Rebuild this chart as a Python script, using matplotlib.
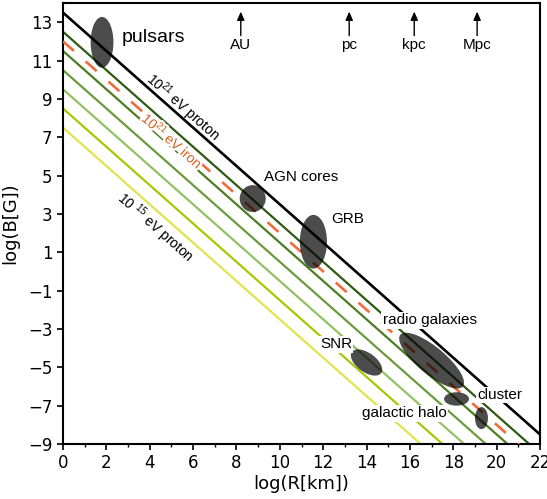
import numpy as np
import matplotlib
matplotlib.use("Agg")
import matplotlib.pyplot as plt
from matplotlib.patches import Ellipse
import matplotlib.patheffects as pe

# ---- data ----
# intercepts of log B = c - log R lines
green_intercepts = [12.5, 11.5, 10.5, 9.5, 8.5, 7.5]
green_colors = ["#2f5a12", "#4d7d22", "#6c9a3d", "#94c064", "#a6c800", "#e2e34c"]
iron_intercept = 12.0
proton21_intercept = 13.5

# objects: name, center R, center B, width, height, angle
obj_names = ["pulsars", "AGN cores", "GRB", "radio galaxies", "SNR", "cluster", "galactic halo"]
obj_R = [1.8, 8.75, 11.55, 17.0, 14.0, 18.15, 19.3]
obj_B = [11.95, 3.8, 1.55, -4.65, -4.75, -6.65, -7.65]
obj_w = [1.05, 1.2, 1.25, 3.95, 1.75, 1.15, 0.6]
obj_h = [2.65, 1.4, 2.8, 1.35, 0.95, 0.7, 1.15]
obj_ang = [0, 0, 0, -44, -42, 0, 0]

# labels
lab_text = ["pulsars", "AGN cores", "GRB", "radio galaxies", "SNR", "cluster", "galactic halo"]
lab_R = [2.7, 9.25, 12.35, 14.75, 11.85, 19.1, 13.8]
lab_B = [12.2, 4.9, 2.75, -2.55, -3.8, -6.45, -7.4]
lab_size = [14, 11, 11, 11, 11, 11, 11]

# distance scale markers
scale_names = ["AU", "pc", "kpc", "Mpc"]
scale_R = [8.2, 13.2, 16.2, 19.1]

xticks = list(range(0, 23, 2))
yticks = list(range(-9, 14, 2))

# ---- figure ----
plt.rcParams["mathtext.fontset"] = "custom"
plt.rcParams["mathtext.rm"] = "Liberation Sans"
plt.rcParams["mathtext.it"] = "Liberation Sans:italic"
plt.rcParams["mathtext.default"] = "regular"

fig = plt.figure(figsize=(5.47, 4.99), dpi=100)
ax = fig.add_axes([63/547, 1-444/499, 477/547, 441/499])
ax.set_xlim(0, 22)
ax.set_ylim(-9, 14)

R = np.array([0.0, 22.0])
for c, col in zip(green_intercepts, green_colors):
    ax.plot(R, c - R, color=col, lw=1.6, solid_capstyle="butt", zorder=2)
ax.plot(R, iron_intercept - R, color="#f26b3a", lw=1.9, dashes=(5.5, 6.0), zorder=3)
ax.plot(R, proton21_intercept - R, color="black", lw=1.9, zorder=3)

for r, b, w, h, a in zip(obj_R, obj_B, obj_w, obj_h, obj_ang):
    ax.add_patch(Ellipse((r, b), w, h, angle=a, facecolor="black", edgecolor="none",
                         alpha=0.7, zorder=4))

bb = dict(facecolor="white", edgecolor="none", pad=1.0)
for t, r, b, s in zip(lab_text, lab_R, lab_B, lab_size):
    ax.text(r, b, t, ha="left", va="center", fontsize=s, family="Liberation Sans",
            bbox=bb, zorder=5)

# rotated energy labels
ax.text(5.52, 8.58, "10$^{21}$ eV proton", rotation=-45, transform_rotates_text=True,
        rotation_mode="anchor", ha="center", va="center", fontsize=10,
        family="Liberation Sans", color="black", zorder=5)
ax.text(5.09, 6.85, "10$^{21}$ eV iron", rotation=-45, transform_rotates_text=True,
        rotation_mode="anchor", ha="center", va="center", fontsize=10,
        family="Liberation Sans", color="#d9601a",
        bbox=dict(facecolor="white", edgecolor="none", pad=-2.4),
        path_effects=[pe.withStroke(linewidth=3.5, foreground="white")], zorder=5)
ax.text(4.25, 2.3, "10 $^{15}$ eV proton", rotation=-45, transform_rotates_text=True,
        rotation_mode="anchor", ha="center", va="center", fontsize=10,
        family="Liberation Sans", color="black", zorder=5)

for n, r in zip(scale_names, scale_R):
    ax.annotate("", xy=(r, 13.55), xytext=(r, 12.3),
                arrowprops=dict(arrowstyle="-|>,head_length=0.5,head_width=0.22",
                                color="black", lw=1.0, shrinkA=0, shrinkB=0))
    ax.text(r, 11.8, n, ha="center", va="center", fontsize=11, family="Liberation Sans")

ax.set_xticks(xticks)
ax.set_yticks(yticks)
ax.set_xticks(range(1, 22, 2), minor=True)
ax.tick_params(which="major", direction="out", length=4, width=1.2, labelsize=12,
               top=False, right=False)
ax.tick_params(which="minor", direction="out", length=2.5, width=1.0, top=False, right=False)
for s in ax.spines.values():
    s.set_linewidth(1.5)

ax.set_xlabel("log(R[km])", fontsize=13, labelpad=2)
ax.set_ylabel("log(B[G])", fontsize=13, labelpad=6)

fig.savefig("out.png", dpi=100)
